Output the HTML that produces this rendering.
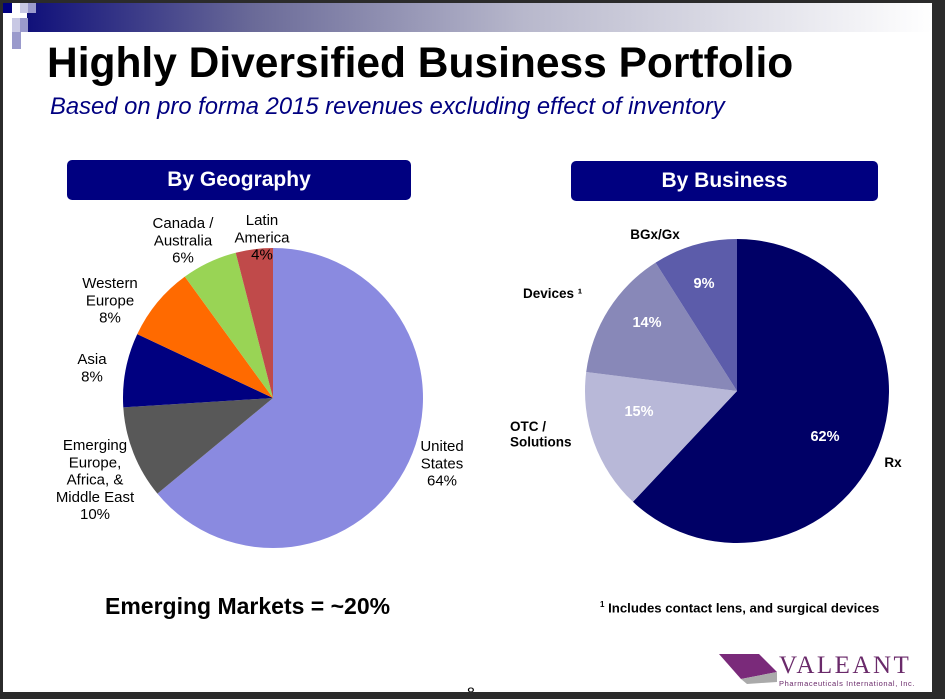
<!DOCTYPE html>
<html><head><meta charset="utf-8"><style>
body{margin:0;background:#2b2b2b;}
#slide{position:absolute;left:3px;top:3px;width:929px;height:689px;background:#fff;overflow:hidden;font-family:"Liberation Sans",sans-serif;}
.t{position:absolute;white-space:nowrap;}
.hdr{position:absolute;background:#000080;color:#fff;border-radius:5px;font-weight:bold;font-size:21px;text-align:center;}
</style></head><body>
<div id="slide">
<div style="position:absolute;left:24px;top:0;width:905px;height:29px;background:linear-gradient(to right,#10107a,#6a6a98 25%,#b8b8cc 55%,#fff)"></div>
<div style="position:absolute;left:0;top:0;width:9px;height:10px;background:#000080"></div>
<div style="position:absolute;left:9px;top:0;width:8px;height:10px;background:#fff"></div>
<div style="position:absolute;left:17px;top:0;width:8px;height:10px;background:#c8c8e4"></div>
<div style="position:absolute;left:25px;top:0;width:8px;height:10px;background:#9a9acc"></div>
<div style="position:absolute;left:9px;top:15px;width:8px;height:14px;background:#c8c8e4"></div>
<div style="position:absolute;left:17px;top:15px;width:8px;height:14px;background:#9a9acc"></div>
<div style="position:absolute;left:9px;top:29px;width:9px;height:17px;background:#9a9acc"></div>
<div class="t" style="left:44px;top:37px;font-size:42.5px;font-weight:bold;color:#000">Highly Diversified Business Portfolio</div>
<div class="t" style="left:47px;top:90px;font-size:23.8px;font-style:italic;color:#000080">Based on pro forma 2015 revenues excluding effect of inventory</div>
<div class="hdr" style="left:64px;top:157px;width:344px;height:40px;line-height:40px">By Geography</div>
<div class="hdr" style="left:568px;top:158px;width:307px;height:40px;line-height:40px">By Business</div>
<svg id="pies" width="929" height="689" style="position:absolute;left:0;top:0"></svg>
<div class="t" style="left:102px;top:590px;font-size:23px;font-weight:bold">Emerging Markets = ~20%</div>
<div class="t" style="left:597px;top:597px;font-size:13.2px;font-weight:bold"><sup style="font-size:8px">1</sup> Includes contact lens, and surgical devices</div>
<svg width="60" height="30" style="position:absolute;left:716px;top:651px"><polygon points="0,0 40,0 58,18 22,25" fill="#7a2a7a"/><polygon points="22,25 58,18 58,28 28,30" fill="#aaa"/></svg>
<div class="t" style="left:776px;top:649px;font-family:'Liberation Serif',serif;font-size:25px;letter-spacing:2.5px;color:#6a2a6a">VALEANT</div>
<div class="t" style="left:776px;top:676px;font-size:7.5px;color:#6a2a6a;letter-spacing:0.6px">Pharmaceuticals International, Inc.</div>
<div class="t" style="left:464px;top:681px;font-size:14px">8</div>
</div>
<script>
const geoLabels=["United States","Emerging Europe, Africa, & Middle East","Asia","Western Europe","Canada / Australia","Latin America"];
const geoValues=[64,10,8,8,6,4];
const geoColors=["#8a8ae0","#585858","#000080","#ff6a00","#99d455","#c04a4a"];
const bizLabels=["Rx","OTC / Solutions","Devices","BGx/Gx"];
const bizValues=[62,15,14,9];
const bizColors=["#000066","#b8b8d8","#8888b8","#5c5caa"];
const NS="http://www.w3.org/2000/svg";
const svg=document.getElementById('pies');
function pie(cx,cy,r,vals,cols,names,prefix){
  const tot=vals.reduce((a,b)=>a+b,0);let a0=0;
  vals.forEach((v,i)=>{
    const a1=a0+v/tot*2*Math.PI;
    const x0=cx+r*Math.sin(a0),y0=cy-r*Math.cos(a0),x1=cx+r*Math.sin(a1),y1=cy-r*Math.cos(a1);
    const p=document.createElementNS(NS,'path');
    p.setAttribute('d',`M${cx},${cy}L${x0},${y0}A${r},${r} 0 ${a1-a0>Math.PI?1:0} 1 ${x1},${y1}Z`);
    p.setAttribute('fill',cols[i]);
    
    
    svg.appendChild(p);a0=a1;
  });
}
function txt(x,y,s,lines,opt){
  lines.forEach((l,k)=>{
    const t=document.createElementNS(NS,'text');
    t.setAttribute('x',x);t.setAttribute('y',y+k*s*1.15);
    t.setAttribute('font-size',s);t.setAttribute('text-anchor',(opt&&opt.anchor)||'middle');
    t.setAttribute('font-family','Liberation Sans, sans-serif');
    if(opt&&opt.bold)t.setAttribute('font-weight','bold');
    t.setAttribute('fill',(opt&&opt.fill)||'#000');
    t.textContent=l;
    
    
    svg.appendChild(t);
  });
}
pie(270,395,150,geoValues,geoColors,geoLabels,'geo');
pie(734,388,152,bizValues,bizColors,bizLabels,'biz');
txt(439,448,15,["United","States",geoValues[0]+"%"]);
txt(92,447,15,["Emerging","Europe,","Africa, &","Middle East",geoValues[1]+"%"]);
txt(89,361,15,["Asia",geoValues[2]+"%"]);
txt(107,285,15,["Western","Europe",geoValues[3]+"%"]);
txt(180,225,15,["Canada /","Australia",geoValues[4]+"%"]);
txt(259,222,15,["Latin","America",geoValues[5]+"%"]);
txt(652,236,13.5,["BGx/Gx"],{bold:1});
txt(520,295,13.5,["Devices ¹"],{bold:1,anchor:'start'});
txt(507,428,13.5,["OTC /","Solutions"],{bold:1,anchor:'start'});
txt(890,464,13.5,["Rx"],{bold:1});
txt(822,438,14.5,[bizValues[0]+"%"],{bold:1,fill:'#fff'});
txt(636,413,14.5,[bizValues[1]+"%"],{bold:1,fill:'#fff'});
txt(644,324,14.5,[bizValues[2]+"%"],{bold:1,fill:'#fff'});
txt(701,285,14.5,[bizValues[3]+"%"],{bold:1,fill:'#fff'});
</script>
</body></html>
